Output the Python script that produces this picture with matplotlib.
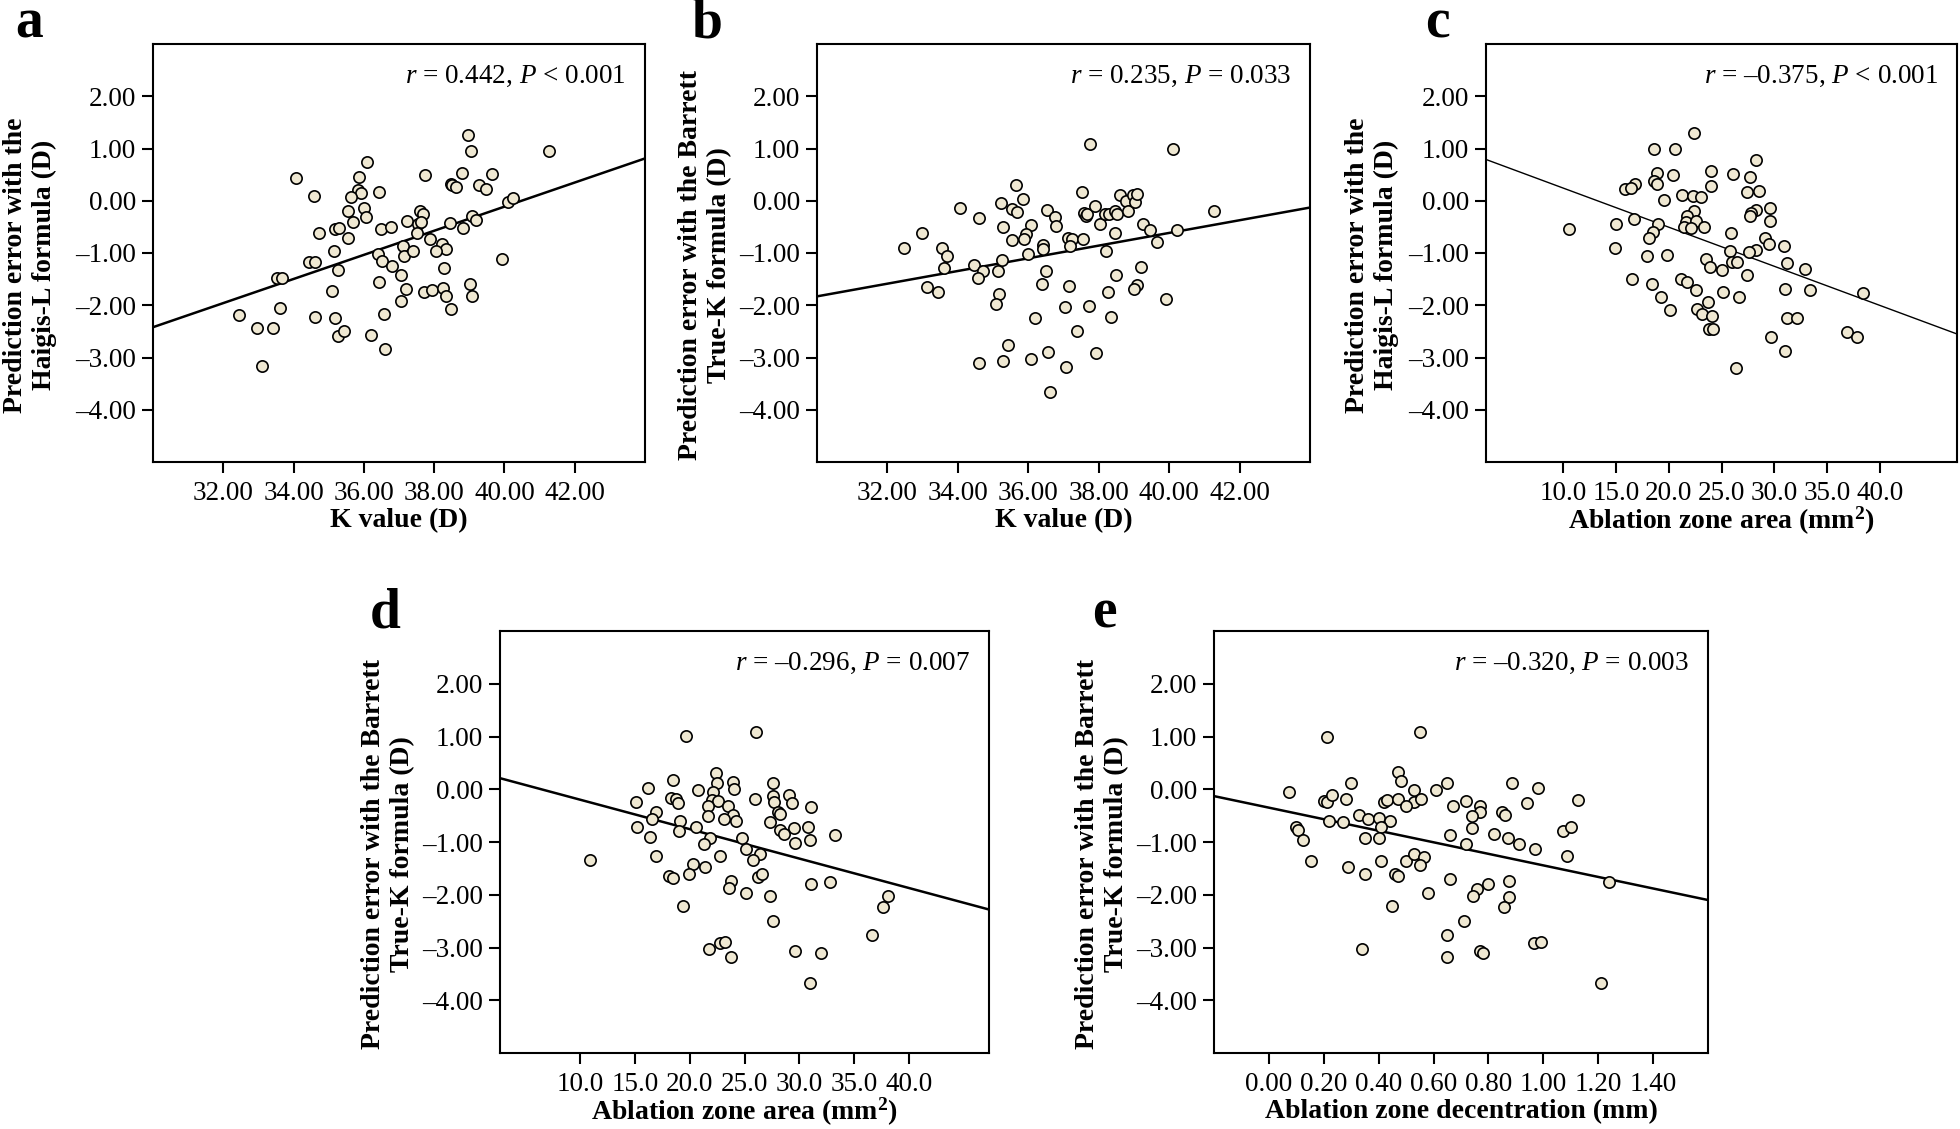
import matplotlib
matplotlib.use("Agg")
import matplotlib.pyplot as plt
from matplotlib.ticker import FuncFormatter

plt.rcParams['font.family'] = ['Liberation Serif', 'DejaVu Serif']
plt.rcParams['mathtext.fontset'] = 'custom'
plt.rcParams['mathtext.rm'] = 'Liberation Serif'
plt.rcParams['mathtext.it'] = 'Liberation Serif:italic'
plt.rcParams['mathtext.bf'] = 'Liberation Serif:bold'

# ---- data ----
# a: K value vs Haigis-L prediction error
k_a = [38.96, 39.04, 41.28, 36.09, 34.07, 37.73, 38.79, 39.66, 35.86, 38.49, 38.52, 38.63,
       39.28, 39.47, 34.57, 35.84, 35.92, 36.43, 35.63, 36.00, 36.06, 35.54, 35.69, 34.71,
       35.18, 35.30, 35.55, 36.48, 36.76, 37.23, 37.60, 37.68, 37.53, 37.64, 37.51, 37.89,
       38.21, 38.33, 38.04, 38.46, 38.81, 39.08, 39.19, 40.10, 40.24, 37.12, 37.14, 37.41,
       36.40, 36.52, 36.79, 35.14, 34.45, 34.60, 35.26, 33.53, 33.67, 37.07, 36.43, 35.08,
       38.27, 39.94, 37.72, 37.93, 37.19, 38.25, 38.33, 39.03, 39.07, 37.07, 38.49, 33.62,
       32.46, 34.61, 35.19, 36.56, 32.96, 33.41, 35.27, 35.43, 36.19, 36.59, 33.11]
err_a = [1.26, 0.96, 0.95, 0.75, 0.44, 0.50, 0.53, 0.51, 0.46, 0.33, 0.31, 0.27,
         0.31, 0.22, 0.09, 0.20, 0.14, 0.17, 0.08, -0.13, -0.31, -0.19, -0.40, -0.62,
         -0.54, -0.52, -0.71, -0.54, -0.50, -0.38, -0.20, -0.26, -0.44, -0.41, -0.61, -0.73,
         -0.82, -0.92, -0.96, -0.43, -0.52, -0.29, -0.36, -0.03, 0.05, -0.87, -1.05, -0.97,
         -1.02, -1.15, -1.24, -0.97, -1.17, -1.18, -1.32, -1.48, -1.48, -1.43, -1.55, -1.73,
         -1.29, -1.11, -1.74, -1.70, -1.69, -1.67, -1.83, -1.59, -1.83, -1.91, -2.07, -2.06,
         -2.18, -2.22, -2.24, -2.17, -2.43, -2.43, -2.59, -2.49, -2.57, -2.84, -3.17]
fit_a = [-2.42, 0.81]

# b: K value vs Barrett True-K prediction error
k_b = [37.75, 40.10, 35.64, 35.85, 35.22, 34.07, 34.60, 35.54, 35.68, 37.52, 36.53, 36.76,
       36.80, 36.09, 35.29, 35.94, 35.87, 35.54, 36.43, 36.43, 37.12, 37.23, 37.19, 37.55,
       37.57, 37.64, 37.67, 37.89, 38.04, 38.17, 38.30, 38.47, 38.51, 38.61, 38.78, 38.82,
       38.96, 39.03, 39.08, 38.46, 39.27, 39.45, 39.65, 40.22, 41.26, 38.22, 36.00, 32.47,
       32.97, 33.54, 33.68, 33.62, 34.47, 34.72, 34.56, 35.14, 35.26, 36.49, 36.40, 37.15,
       38.49, 39.20, 39.08, 39.01, 38.27, 33.11, 33.43, 35.18, 35.08, 37.05, 37.72, 39.92,
       36.18, 38.34, 37.39, 35.43, 36.57, 37.93, 34.60, 35.29, 36.07, 37.07, 36.62]
err_b = [1.08, 1.00, 0.31, 0.03, -0.05, -0.14, -0.33, -0.16, -0.21, 0.17, -0.18, -0.32,
         -0.48, -0.46, -0.50, -0.63, -0.73, -0.76, -0.85, -0.92, -0.71, -0.73, -0.86, -0.73,
         -0.23, -0.30, -0.25, -0.11, -0.44, -0.26, -0.25, -0.19, -0.26, 0.11, 0.00, -0.20,
         0.11, -0.02, 0.12, -0.61, -0.44, -0.56, -0.79, -0.56, -0.20, -0.97, -1.02, -0.91,
         -0.61, -0.91, -1.05, -1.28, -1.23, -1.35, -1.47, -1.35, -1.13, -1.35, -1.60, -1.63,
         -1.43, -1.26, -1.61, -1.69, -1.74, -1.65, -1.75, -1.79, -1.97, -2.03, -2.01, -1.88,
         -2.24, -2.22, -2.49, -2.76, -2.90, -2.92, -3.11, -3.07, -3.02, -3.18, -3.66]
fit_b = [-1.83, -0.13]

# c: ablation zone area vs Haigis-L prediction error
area_c = [22.36, 18.63, 20.61, 28.26, 18.92, 23.98, 26.09, 20.44, 27.71, 18.63, 18.89, 16.78,
          15.90, 16.39, 23.98, 27.42, 28.59, 21.29, 22.29, 23.10, 19.54, 29.59, 28.26, 27.84,
          27.68, 29.56, 22.36, 21.71, 21.61, 22.58, 16.71, 19.02, 15.00, 10.58, 21.42, 22.07,
          23.33, 18.47, 18.11, 25.89, 29.10, 29.46, 30.89, 28.23, 27.58, 25.80, 14.87, 19.80,
          17.95, 25.96, 26.44, 23.56, 23.88, 31.21, 32.93, 25.08, 27.45, 16.55, 21.16, 21.71,
          18.40, 22.58, 31.02, 33.39, 38.38, 25.12, 26.67, 19.31, 23.75, 20.15, 22.65, 23.17,
          24.08, 31.18, 32.19, 23.79, 24.24, 29.66, 36.86, 37.86, 31.02, 26.38]
err_c = [1.30, 0.99, 0.99, 0.78, 0.54, 0.56, 0.52, 0.49, 0.46, 0.37, 0.32, 0.32,
         0.22, 0.24, 0.29, 0.16, 0.19, 0.11, 0.09, 0.07, 0.01, -0.13, -0.17, -0.24,
         -0.29, -0.38, -0.20, -0.30, -0.40, -0.39, -0.35, -0.44, -0.45, -0.54, -0.51, -0.52,
         -0.50, -0.60, -0.72, -0.62, -0.72, -0.83, -0.87, -0.95, -0.98, -0.97, -0.91, -1.03,
         -1.05, -1.17, -1.18, -1.12, -1.26, -1.19, -1.30, -1.32, -1.43, -1.49, -1.50, -1.56,
         -1.60, -1.70, -1.68, -1.70, -1.76, -1.74, -1.84, -1.85, -1.94, -2.09, -2.08, -2.17,
         -2.20, -2.25, -2.25, -2.46, -2.46, -2.61, -2.52, -2.60, -2.87, -3.21]
fit_c = [0.79, -2.55]

# d: ablation zone area vs Barrett True-K prediction error
area_d = [26.09, 19.70, 22.41, 22.46, 23.96, 24.00, 27.58, 18.52, 16.16, 20.74, 22.10, 27.62,
          29.08, 25.96, 18.29, 18.79, 18.97, 15.12, 22.05, 22.55, 27.72, 29.35, 21.64, 23.46,
          31.11, 16.93, 21.64, 23.91, 28.08, 28.22, 16.57, 23.14, 24.23, 19.11, 27.35, 15.17,
          20.56, 28.22, 29.53, 30.80, 19.02, 28.58, 33.24, 16.34, 24.73, 21.83, 29.57, 30.93,
          21.28, 25.13, 26.40, 10.95, 16.89, 22.73, 25.81, 20.29, 21.42, 18.11, 18.52, 19.92,
          26.27, 26.58, 23.77, 31.07, 32.79, 23.55, 25.13, 27.35, 38.09, 37.64, 19.42, 27.58,
          36.64, 21.78, 22.73, 23.23, 23.77, 29.62, 32.02, 30.93]
err_d = [1.09, 1.01, 0.31, 0.12, 0.13, 0.00, 0.12, 0.17, 0.03, -0.01, -0.06, -0.12,
         -0.10, -0.18, -0.17, -0.19, -0.26, -0.24, -0.20, -0.22, -0.24, -0.26, -0.31, -0.32,
         -0.33, -0.43, -0.50, -0.49, -0.44, -0.47, -0.57, -0.56, -0.61, -0.60, -0.63, -0.72,
         -0.71, -0.77, -0.73, -0.72, -0.79, -0.85, -0.87, -0.91, -0.92, -0.93, -1.02, -0.97,
         -1.04, -1.13, -1.23, -1.35, -1.27, -1.27, -1.35, -1.42, -1.47, -1.64, -1.69, -1.60,
         -1.66, -1.61, -1.74, -1.79, -1.75, -1.88, -1.97, -2.03, -2.02, -2.24, -2.22, -2.50,
         -2.76, -3.03, -2.91, -2.89, -3.18, -3.07, -3.11, -3.67]
fit_d = [0.21, -2.28]

# e: ablation zone decentration vs Barrett True-K prediction error
dec_e = [0.075, 0.21, 0.55, 0.47, 0.48, 0.30, 0.65, 0.885, 0.98, 0.61, 0.53, 0.20,
         0.21, 0.23, 0.28, 0.42, 0.43, 0.47, 0.53, 0.555, 0.50, 0.72, 0.67, 0.77,
         0.77, 0.74, 0.85, 0.86, 0.94, 1.125, 0.33, 0.36, 0.40, 0.44, 0.41, 0.22,
         0.27, 0.097, 0.105, 0.125, 0.74, 0.82, 0.66, 0.87, 0.91, 0.72, 1.07, 1.10,
         0.97, 0.35, 0.40, 0.155, 0.41, 0.50, 0.53, 0.565, 0.55, 1.085, 0.29, 0.35,
         0.46, 0.47, 0.66, 0.875, 1.24, 0.80, 0.76, 0.745, 0.58, 0.875, 0.855, 0.45,
         0.71, 0.65, 0.34, 0.965, 0.99, 0.77, 0.78, 0.65, 1.21]
err_e = [-0.05, 1.00, 1.08, 0.32, 0.16, 0.12, 0.12, 0.11, 0.02, -0.01, -0.01, -0.22,
         -0.25, -0.11, -0.18, -0.25, -0.20, -0.18, -0.24, -0.19, -0.32, -0.22, -0.32, -0.32,
         -0.43, -0.51, -0.44, -0.48, -0.26, -0.20, -0.49, -0.57, -0.55, -0.61, -0.71, -0.61,
         -0.63, -0.71, -0.77, -0.97, -0.74, -0.85, -0.875, -0.93, -1.03, -1.04, -0.79, -0.72,
         -1.125, -0.92, -0.92, -1.355, -1.355, -1.36, -1.23, -1.28, -1.43, -1.26, -1.47, -1.61,
         -1.60, -1.65, -1.70, -1.74, -1.75, -1.79, -1.89, -2.02, -1.97, -2.04, -2.24, -2.22,
         -2.49, -2.76, -3.02, -2.92, -2.90, -3.07, -3.11, -3.18, -3.67]
fit_e = [-0.13, -2.10]

ylab_haigis = "Prediction error with the\nHaigis-L formula (D)"
ylab_barrett = "Prediction error with the Barrett\nTrue-K formula (D)"
xlab_k = "K value (D)"
xlab_area = r"Ablation zone area (mm$^{\mathbf{2}}$)"
xlab_dec = "Ablation zone decentration (mm)"

ticks_k = [32, 34, 36, 38, 40, 42]
ticks_area = [10, 15, 20, 25, 30, 35, 40]
ticks_dec = [0.0, 0.2, 0.4, 0.6, 0.8, 1.0, 1.2, 1.4]
ticks_err = [2, 1, 0, -1, -2, -3, -4]

stats = [r"$\it{r}$ = 0.442, $\it{P}$ < 0.001",
         r"$\it{r}$ = 0.235, $\it{P}$ = 0.033",
         r"$\it{r}$ = –0.375, $\it{P}$ < 0.001",
         r"$\it{r}$ = –0.296, $\it{P}$ = 0.007",
         r"$\it{r}$ = –0.320, $\it{P}$ = 0.003"]

# ---- layout in pixels ----
W, H = 1960, 1129
fig = plt.figure(figsize=(W / 100, H / 100), dpi=100)

panels = [
    # letter, box(l, t, r, b), x, y, fit, xlim, xticks, fmt, xlabel, ylabel, ylabel x, letter pos, line width
    ("a", (153, 44, 645, 462), k_a, err_a, fit_a, (30, 44), ticks_k, "%.2f", xlab_k, ylab_haigis, 30, (29, 37), 1.8),
    ("b", (817, 44, 1310, 462), k_b, err_b, fit_b, (30, 44), ticks_k, "%.2f", xlab_k, ylab_barrett, 705, (707, 37), 1.8),
    ("c", (1486, 44, 1957, 462), area_c, err_c, fit_c, (2.7, 47.3), ticks_area, "%.1f", xlab_area, ylab_haigis, 1372, (1437, 37), 1.0),
    ("d", (500, 631, 989, 1053), area_d, err_d, fit_d, (2.7, 47.3), ticks_area, "%.1f", xlab_area, ylab_barrett, 388, (385, 627), 1.8),
    ("e", (1214, 631, 1708, 1053), dec_e, err_e, fit_e, (-0.2, 1.6), ticks_dec, "%.2f", xlab_dec, ylab_barrett, 1102, (1104, 627), 1.8),
]


def dash_fmt(fmt):
    return FuncFormatter(lambda v, pos: (fmt % v).replace("-", "–"))


for i, (letter, box, xs, ys, fit, xlim, xticks, fmt, xlab, ylab, ylx, lpos, lw) in enumerate(panels):
    l, t, r, b = box
    ax = fig.add_axes([l / W, 1 - b / H, (r - l) / W, (b - t) / H])
    ax.scatter(xs, ys, s=66, facecolor="#efe8d2", edgecolor="black", linewidth=1.2, zorder=3)
    ax.plot(xlim, fit, color="black", linewidth=lw, zorder=2)
    ax.set_xlim(xlim)
    ax.set_ylim(-5, 3)
    ax.set_xticks(xticks)
    ax.set_yticks(ticks_err)
    ax.xaxis.set_major_formatter(dash_fmt(fmt))
    ax.yaxis.set_major_formatter(dash_fmt("%.2f"))
    ax.tick_params(axis="x", direction="out", length=8, width=1.5, pad=6, labelsize=19.5)
    ax.tick_params(axis="y", direction="out", length=8, width=1.5, pad=4, labelsize=19.5)
    for sp in ax.spines.values():
        sp.set_linewidth(1.5)
    ax.text(1 - 19 / (r - l), 1 - 32 / (b - t), stats[i], transform=ax.transAxes,
            ha="right", va="center", fontsize=19.5)
    # axis labels
    fig.text((l + r) / 2 / W, 1 - (b + 59) / H, xlab, ha="center", va="center",
             fontsize=20, fontweight="bold")
    fig.text(ylx / W, 1 - ((t + b) / 2 + 12) / H, ylab, rotation=90, ha="center", va="center",
             fontsize=20, fontweight="bold", multialignment="center", linespacing=1.25)
    fig.text(lpos[0] / W, 1 - lpos[1] / H, letter, ha="center", va="baseline",
             fontsize=40, fontweight="bold")

fig.savefig("out.png", dpi=100)
